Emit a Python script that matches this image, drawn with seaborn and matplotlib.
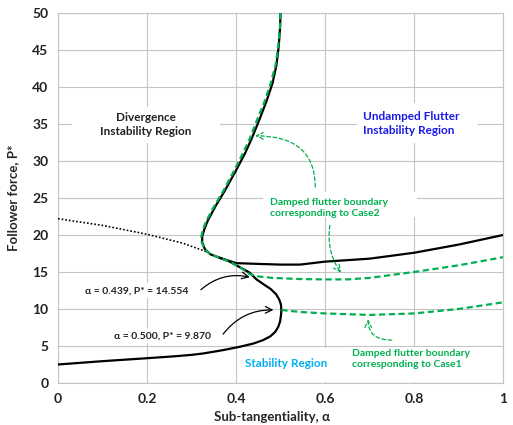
import matplotlib
matplotlib.use("Agg")
import matplotlib.pyplot as plt
from matplotlib.patches import Rectangle
import seaborn as sns

# ---- data ----
# main stability boundary (black, one continuous path)
main_alpha = [0.0, 0.1, 0.2, 0.26, 0.3, 0.325, 0.342, 0.362, 0.38, 0.409, 0.44, 0.461, 0.477,
              0.488, 0.495, 0.499, 0.501, 0.502, 0.501, 0.497, 0.49, 0.478, 0.463, 0.446,
              0.431, 0.41, 0.386, 0.362, 0.342, 0.33, 0.324, 0.324, 0.329, 0.337, 0.355,
              0.375, 0.398, 0.42, 0.435, 0.452, 0.468, 0.482, 0.491, 0.496, 0.499, 0.5]
main_p = [2.5, 2.95, 3.35, 3.6, 3.8, 3.98, 4.15, 4.35, 4.55, 4.9, 5.35, 5.8, 6.3,
          6.9, 7.6, 8.3, 9.1, 9.87, 10.6, 11.3, 12.0, 12.7, 13.3, 14.0,
          14.9, 15.6, 16.4, 16.95, 17.4, 18.1, 19.0, 19.8, 20.8, 22.0, 24.0,
          26.0, 28.5, 31.0, 33.0, 35.5, 38.0, 40.5, 43.0, 45.5, 48.0, 50.0]

# upper undamped flutter branch (black)
upper_alpha = [0.362, 0.4, 0.447, 0.5, 0.544, 0.6, 0.7, 0.8, 0.9, 1.0]
upper_p = [16.95, 16.2, 16.1, 16.0, 16.0, 16.4, 16.8, 17.6, 18.7, 20.0]

# divergence continuation (dotted)
dot_alpha = [0.0, 0.1, 0.2, 0.28, 0.345]
dot_p = [22.2, 21.3, 20.1, 18.9, 17.5]

# damped flutter boundary, Case2 (green dashed)
case2_alpha = [0.5, 0.499, 0.495, 0.489, 0.478, 0.464, 0.447, 0.431, 0.415, 0.394, 0.372,
               0.352, 0.334, 0.326, 0.322, 0.323, 0.33, 0.342, 0.362, 0.386, 0.41, 0.431,
               0.45, 0.483, 0.544, 0.6, 0.65, 0.7, 0.8, 0.9, 1.0]
case2_p = [50.0, 48.0, 45.5, 43.0, 40.5, 38.0, 35.5, 33.0, 31.0, 28.5, 26.0,
           24.0, 22.0, 20.8, 19.8, 19.0, 18.1, 17.4, 16.95, 16.4, 15.6, 14.7,
           14.4, 14.2, 14.05, 14.0, 14.0, 14.2, 15.0, 15.9, 17.0]

# damped flutter boundary, Case1 (green dashed)
case1_alpha = [0.502, 0.544, 0.6, 0.7, 0.8, 0.9, 1.0]
case1_p = [9.87, 9.6, 9.4, 9.2, 9.4, 10.0, 10.9]

x_ticks = [0, 0.2, 0.4, 0.6, 0.8, 1.0]
x_labels = ["0", "0.2", "0.4", "0.6", "0.8", "1"]
y_ticks = list(range(0, 51, 5))

BLACK = "black"
GREEN = "#00b050"
BLUE = "#1a1ae6"
CYAN = "#00b0f0"
GRID = "#c4c4c4"
DASH = (0, (2.8, 1.6))

sns.set_theme(style="white")
plt.rcParams["font.family"] = ["Lato", "DejaVu Sans"]
plt.rcParams["font.weight"] = "bold"

fig = plt.figure(figsize=(5.13, 4.25), dpi=100)
ax = fig.add_axes([58 / 513, 42 / 425, 445 / 513, 370 / 425])

# curves
sns.lineplot(x=main_alpha, y=main_p, sort=False, estimator=None, ax=ax,
             color=BLACK, linewidth=1.6, zorder=3)
sns.lineplot(x=upper_alpha, y=upper_p, sort=False, estimator=None, ax=ax,
             color=BLACK, linewidth=1.6, zorder=3)
sns.lineplot(x=dot_alpha, y=dot_p, sort=False, estimator=None, ax=ax,
             color=BLACK, linewidth=1.2, linestyle=(0, (1, 1.2)), zorder=3)
sns.lineplot(x=case2_alpha, y=case2_p, sort=False, estimator=None, ax=ax,
             color=GREEN, linewidth=1.6, linestyle=DASH, zorder=4)
sns.lineplot(x=case1_alpha, y=case1_p, sort=False, estimator=None, ax=ax,
             color=GREEN, linewidth=1.6, linestyle=DASH, zorder=4)

ax.set_xlim(0, 1)
ax.set_ylim(0, 50)
ax.set_xticks(x_ticks)
ax.set_xticklabels(x_labels)
ax.set_yticks(y_ticks)
ax.grid(True, color=GRID, linewidth=0.8, zorder=0)
ax.set_axisbelow(True)
for s in ax.spines.values():
    s.set_color(GRID)
    s.set_linewidth(0.8)
ax.tick_params(length=0, labelsize=10, pad=7, colors="#222222")
for lab in ax.get_xticklabels() + ax.get_yticklabels():
    lab.set_fontweight("bold")

ax.set_xlabel("Sub-tangentiality, α", fontsize=9.5, fontweight="bold")
ax.set_ylabel("Follower force, P*", fontsize=9.5, fontweight="bold")
ax.xaxis.set_label_coords(0.48, -0.075)
ax.yaxis.set_label_coords(-0.088, 0.5)

# white text boxes that hide the grid behind the labels
boxes = [(0.031, 32.4, 0.333, 4.9), (0.672, 32.4, 0.272, 5.4),
         (0.461, 22.4, 0.346, 3.4), (0.649, 0.1, 0.344, 4.8),
         (0.409, 0.1, 0.202, 4.6), (0.045, 11.5, 0.265, 2.0),
         (0.106, 5.4, 0.249, 2.0)]
for bx, by, bw, bh in boxes:
    ax.add_patch(Rectangle((bx, by), bw, bh, facecolor="white", edgecolor="none", zorder=1))

# region labels
ax.text(0.198, 34.9, "Divergence\nInstability Region", ha="center", va="center",
        fontsize=8.5, fontweight="bold", color="#222222", zorder=5, linespacing=1.3)
ax.text(0.685, 35.1, "Undamped Flutter\nInstability Region", ha="left", va="center",
        fontsize=8.5, fontweight="bold", color=BLUE, zorder=5, linespacing=1.3)
ax.text(0.513, 2.7, "Stability Region", ha="center", va="center",
        fontsize=8.5, fontweight="bold", color=CYAN, zorder=5)
ax.text(0.476, 23.7, "Damped flutter boundary\ncorresponding to Case2", ha="left", va="center",
        fontsize=7.5, fontweight="bold", color=GREEN, zorder=5, linespacing=1.3)
ax.text(0.66, 3.2, "Damped flutter boundary\ncorresponding to Case1", ha="left", va="center",
        fontsize=7.5, fontweight="bold", color=GREEN, zorder=5, linespacing=1.3)
ax.text(0.178, 12.4, "α = 0.439, P* = 14.554", ha="center", va="center",
        fontsize=7.5, fontweight="bold", color="#222222", zorder=5)
ax.text(0.234, 6.35, "α = 0.500, P* = 9.870", ha="center", va="center",
        fontsize=7.5, fontweight="bold", color="#222222", zorder=5)

# arrows
black_arrow = dict(arrowstyle="->", color=BLACK, lw=0.9, shrinkA=0, shrinkB=0)
ax.annotate("", xy=(0.431, 14.3), xytext=(0.321, 12.6),
            arrowprops=dict(black_arrow, connectionstyle="arc3,rad=-0.25"), zorder=6)
ax.annotate("", xy=(0.484, 9.87), xytext=(0.371, 6.6),
            arrowprops=dict(black_arrow, connectionstyle="arc3,rad=-0.25"), zorder=6)

green_arrow = dict(arrowstyle="->", color=GREEN, lw=0.9, linestyle=(0, (3, 2)),
                   shrinkA=0, shrinkB=0)
ax.annotate("", xy=(0.443, 33.4), xytext=(0.578, 26.5),
            arrowprops=dict(green_arrow, connectionstyle="angle3,angleA=90,angleB=0"), zorder=6)
ax.annotate("", xy=(0.636, 14.9), xytext=(0.611, 21.3),
            arrowprops=dict(green_arrow, connectionstyle="arc3,rad=0.2"), zorder=6)
ax.annotate("", xy=(0.697, 8.6), xytext=(0.75, 5.8),
            arrowprops=dict(green_arrow, connectionstyle="angle3,angleA=180,angleB=90"), zorder=6)

fig.savefig("out.png", dpi=100)
